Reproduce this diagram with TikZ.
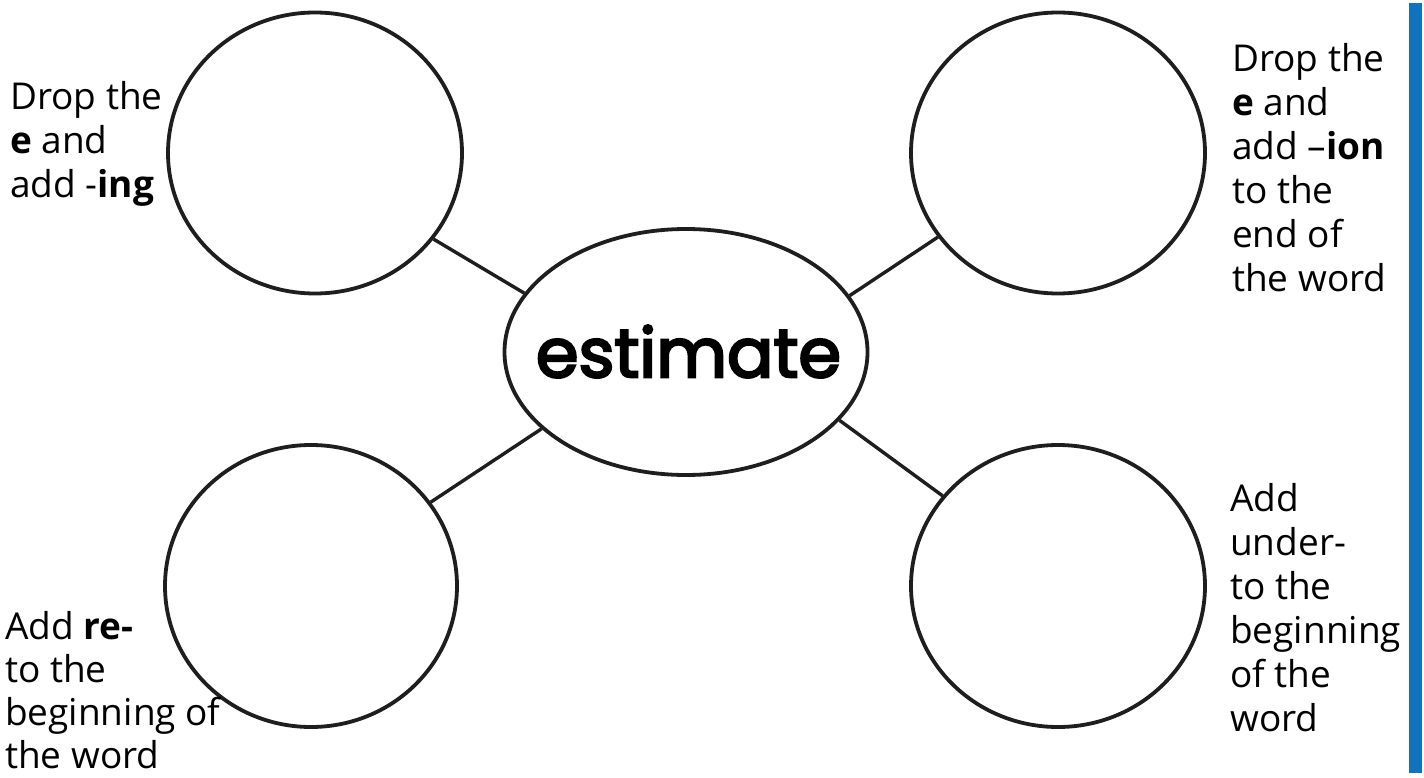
\documentclass[tikz,border=0pt]{standalone}
\usepackage{fontspec}
\setmainfont{Open Sans}
\newfontfamily\popfont{Poppins}[FakeBold=3.5]
\usetikzlibrary{shapes.geometric}
\definecolor{barblue}{RGB}{18,114,190}
\definecolor{ink}{RGB}{30,30,30}
\begin{document}
\begin{tikzpicture}[x=1pt,y=-1pt,
  ring/.style={draw=ink, line width=3.8pt, ellipse, inner sep=0pt, fill=white},
  link/.style={draw=ink, line width=3.4pt},
  lbl/.style={font=\fontsize{37}{44}\selectfont, align=left, inner sep=0pt, anchor=north west, text=black}]
\useasboundingbox (0,0) rectangle (1424,778);
\fill[white] (0,0) rectangle (1424,778);
\fill[barblue] (1409,3) rectangle (1422,773);
% center
\node[ring, minimum width=363pt, minimum height=246pt] (c) at (686,352) {};
\node[inner sep=0pt] (word) at (688.5,351.5) {\resizebox{305pt}{52pt}{\popfont estimate}};
% circles
\node[ring, minimum width=294pt, minimum height=281pt] (tl) at (315,153) {};
\node[ring, minimum width=294pt, minimum height=281pt] (tr) at (1058,153) {};
\node[ring, minimum width=292pt, minimum height=282pt] (bl) at (311,586) {};
\node[ring, minimum width=294pt, minimum height=282pt] (br) at (1058,586) {};
% connectors
\draw[link] (tl.-36) -- (c.160);
\draw[link] (tr.215) -- (c.19);
\draw[link] (bl.35) -- (c.208);
\draw[link] (br.142) -- (c.-24);
% labels
\node[lbl] (ltl) at (10,81) {Drop the\\\textbf{e} and\\add -\textbf{ing}};
\node[lbl] (ltr) at (1232,43) {Drop the\\\textbf{e} and\\add –\textbf{ion}\\to the\\end of\\the word};
\node[lbl, font=\fontsize{37}{43}\selectfont] (lbl) at (5,611) {Add \textbf{re-}\\to the\\beginning of\\the word};
\node[lbl] (lbr) at (1230,483) {Add\\under-\\to the\\beginning\\of the\\word};
\end{tikzpicture}
\end{document}
